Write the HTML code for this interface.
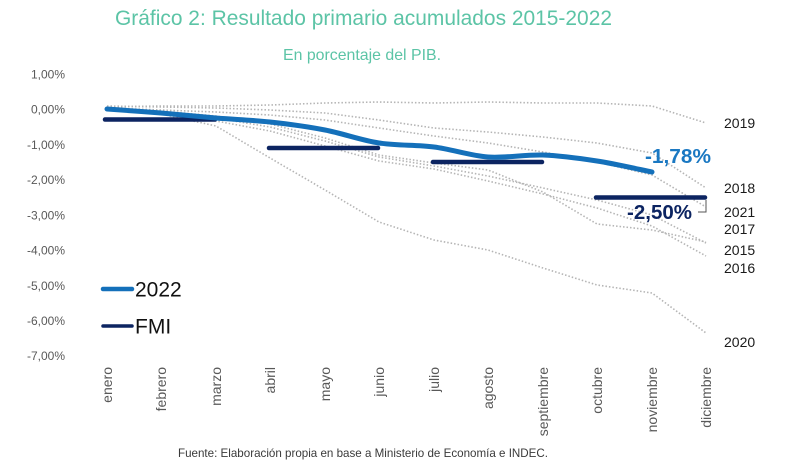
<!DOCTYPE html>
<html>
<head>
<meta charset="utf-8">
<style>
html,body{margin:0;padding:0;background:#fff;}
svg{display:block;font-family:"Liberation Sans",Arial,sans-serif;}
</style>
</head>
<body>
<svg width="800" height="470" viewBox="0 0 800 470" xmlns="http://www.w3.org/2000/svg">
<rect width="800" height="470" fill="#fff"/>
<text x="115" y="25" font-size="21" fill="#5cc4a6" textLength="497" lengthAdjust="spacingAndGlyphs">Gráfico 2: Resultado primario acumulados 2015-2022</text>
<text x="283" y="60" font-size="16" fill="#5cc4a6" textLength="158" lengthAdjust="spacingAndGlyphs">En porcentaje del PIB.</text>

<g font-size="12" fill="#595959" text-anchor="end">
<text x="65" y="78.5">1,00%</text>
<text x="65" y="113.5">0,00%</text>
<text x="65" y="149">-1,00%</text>
<text x="65" y="184">-2,00%</text>
<text x="65" y="219.5">-3,00%</text>
<text x="65" y="254.5">-4,00%</text>
<text x="65" y="290">-5,00%</text>
<text x="65" y="325">-6,00%</text>
<text x="65" y="360">-7,00%</text>
</g>

<g font-size="14" fill="#595959" text-anchor="end">
<text transform="translate(112,367) rotate(-90)">enero</text>
<text transform="translate(166,367) rotate(-90)">febrero</text>
<text transform="translate(221,367) rotate(-90)">marzo</text>
<text transform="translate(275,367) rotate(-90)">abril</text>
<text transform="translate(330,367) rotate(-90)">mayo</text>
<text transform="translate(384,367) rotate(-90)">junio</text>
<text transform="translate(439,367) rotate(-90)">julio</text>
<text transform="translate(493,367) rotate(-90)">agosto</text>
<text transform="translate(548,367) rotate(-90)">septiembre</text>
<text transform="translate(602,367) rotate(-90)">octubre</text>
<text transform="translate(657,367) rotate(-90)">noviembre</text>
<text transform="translate(711,367) rotate(-90)">diciembre</text>
</g>

<g fill="none" stroke="#b5b5b5" stroke-width="1.6" stroke-dasharray="1.5 2" stroke-linejoin="round">
<polyline points="107,107 161,106 216,106 270,105 325,103 379,102 434,103 488,102 543,103 597,103 652,106 706,123"/>
<polyline points="107,106 161,107 216,108 270,110 325,113 379,120 434,128 488,132 543,137 597,143 652,153 706,188"/>
<polyline points="107,108 161,110 216,112 270,115 325,120 379,128 434,136 488,143 543,152 597,162 652,175 706,207"/>
<polyline points="107,108 161,111 216,116 270,124 325,138 379,155 434,163 488,170 543,192 597,224 652,230 706,242"/>
<polyline points="107,109 161,112 216,118 270,127 325,141 379,157 434,166 488,176 543,188 597,200 652,215 706,243"/>
<polyline points="107,110 161,114 216,121 270,131 325,146 379,161 434,169 488,181 543,194 597,208 652,226 706,256"/>
<polyline points="107,109 161,114 216,126 270,158 325,190 379,222 434,240 488,250 543,268 597,285 652,293 706,333"/>
</g>

<g stroke="#0c2461" stroke-width="4.5" stroke-linecap="round" fill="none">
<line x1="105" y1="119.5" x2="215" y2="119.5"/>
<line x1="269" y1="148" x2="378" y2="148"/>
<line x1="433" y1="162" x2="542" y2="162"/>
<line x1="596" y1="197.5" x2="705" y2="197.5"/>
</g>

<path d="M107,109 C116,109.7 142.8,111.5 161,113 C179.2,114.5 197.8,116.5 216,118 C234.2,119.5 251.8,120 270,122 C288.2,124 306.8,126.5 325,130 C343.2,133.5 360.8,140.2 379,143 C397.2,145.8 415.8,144.7 434,147 C452.2,149.3 469.8,155.7 488,157 C506.2,158.3 524.8,154.3 543,155 C561.2,155.7 578.8,158.2 597,161 C615.2,163.8 642.8,170.2 652,172" fill="none" stroke="#1470ba" stroke-width="5" stroke-linecap="round"/>

<path d="M706,200 L706,212 L698,212" fill="none" stroke="#555" stroke-width="1"/>

<text x="645" y="163" font-size="20" font-weight="bold" fill="#1a78c2" textLength="66" lengthAdjust="spacingAndGlyphs">-1,78%</text>
<text x="627" y="219" font-size="20" font-weight="bold" fill="#0c2461" textLength="65" lengthAdjust="spacingAndGlyphs">-2,50%</text>

<g font-size="14" fill="#1a1a1a">
<text x="724" y="128">2019</text>
<text x="724" y="193">2018</text>
<text x="724" y="217">2021</text>
<text x="724" y="234">2017</text>
<text x="724" y="255">2015</text>
<text x="724" y="273">2016</text>
<text x="724" y="347">2020</text>
</g>

<line x1="103" y1="289" x2="132" y2="289" stroke="#1470ba" stroke-width="4.5" stroke-linecap="round"/>
<text x="135" y="296.5" font-size="21" fill="#111">2022</text>
<line x1="103" y1="326" x2="132" y2="326" stroke="#0c2461" stroke-width="3.5" stroke-linecap="round"/>
<text x="135" y="333.5" font-size="21" fill="#111">FMI</text>

<text x="178" y="457" font-size="12" fill="#3a3a3a" textLength="370" lengthAdjust="spacingAndGlyphs">Fuente: Elaboración propia en base a Ministerio de Economía e INDEC.</text>
</svg>
</body>
</html>
